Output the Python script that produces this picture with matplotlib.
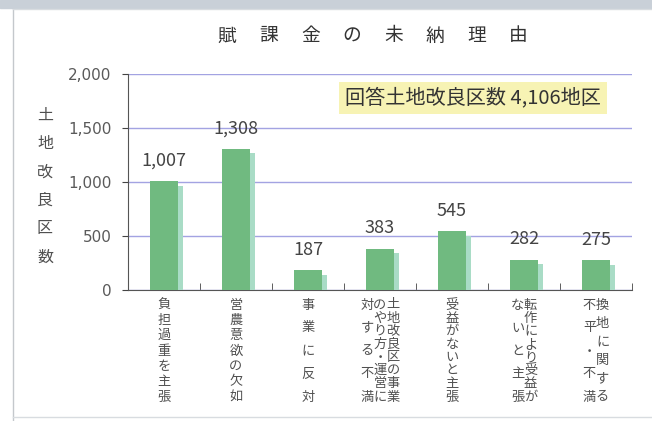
import matplotlib
matplotlib.use("Agg")
import matplotlib.pyplot as plt
import matplotlib.patheffects as pe
from matplotlib.patches import Rectangle
from matplotlib.lines import Line2D

plt.rcParams['font.family'] = ['Noto Sans CJK JP', 'DejaVu Sans']

# データ
title = "賦課金の未納理由"
reasons = ["負担過重を主張", "営農意欲の欠如", "事業に反対",
           "土地改良区の事業のやり方・運営に対する不満", "受益がないと主張",
           "転作により受益がないと主張", "換地に関する不平・不満"]
# 縦書きラベルの列（右から左）
label_columns = [
    ["負担過重を主張"],
    ["営農意欲の欠如"],
    ["事業に反対"],
    ["土地改良区の事業", "のやり方・運営に", "対する不満"],
    ["受益がないと主張"],
    ["転作により受益が", "ないと主張"],
    ["換地に関する", "不平・不満"],
]
counts = [1007, 1308, 187, 383, 545, 282, 275]
yticks = [0, 500, 1000, 1500, 2000]
ylabel = "土地改良区数"
note = "回答土地改良区数 4,106地区"

W, H = 652, 421
bar_color = "#70ba80"
shadow_color = "#a9dcc6"
grid_color = "#a3a3e2"
text_color = "#505050"


def fx(x):
    return x / W


def fy(y):
    return 1 - y / H


fig = plt.figure(figsize=(W / 100, H / 100), dpi=100)
ax = fig.add_axes([fx(128), fy(290), fx(632) - fx(128), fy(74) - fy(290)])

# 枠
fig.patches.append(Rectangle((0, fy(8)), 1, fy(0) - fy(8), transform=fig.transFigure,
                             color="#c9d0d8", zorder=0))
fig.lines.append(Line2D([fx(13), fx(13)], [fy(9), 0], transform=fig.transFigure,
                        color="#c4c8cc", lw=1))
fig.lines.append(Line2D([fx(13), 1], [fy(9), fy(9)], transform=fig.transFigure,
                        color="#d8dce0", lw=1))
fig.lines.append(Line2D([fx(13), 1], [fy(417), fy(417)], transform=fig.transFigure,
                        color="#d8dce0", lw=1))

x = list(range(len(counts)))
ax.bar(x, counts, width=0.4, color=bar_color, zorder=3,
       path_effects=[pe.SimplePatchShadow(offset=(3.6, -3.4), shadow_rgbFace=shadow_color,
                                          alpha=1.0),
                     pe.Normal()])

for xi, v in zip(x, counts):
    ax.annotate(f"{v:,}", (xi, v), xytext=(0, 11), textcoords="offset points",
                ha="center", va="baseline", fontsize=13, color="#444444")

ax.set_xlim(-0.5, len(counts) - 0.5)
ax.set_ylim(0, 2000)
ax.set_yticks(yticks, labels=[f"{t:,}" for t in yticks], family="DejaVu Sans")
ax.set_xticks(x, labels=[""] * len(x))
ax.set_xticks([i + 0.5 for i in x], minor=True)
ax.tick_params(axis="x", which="major", length=0)
ax.tick_params(axis="x", which="minor", direction="in", length=5, color="#444444")
ax.tick_params(axis="y", length=4, pad=8, color="#444444", labelsize=11,
               labelcolor="#5a5a5a")
ax.yaxis.grid(True, color=grid_color, lw=1)
ax.set_axisbelow(True)
for s in ["top", "right"]:
    ax.spines[s].set_visible(False)
for s in ["left", "bottom"]:
    ax.spines[s].set_color("#555555")

# タイトル（字間を広げる）
for k, ch in enumerate(title):
    fig.text(fx(227 + k * 41.6), fy(36), ch, ha="center", va="center",
             fontsize=13.5, color="#333333")

# 縦書きの y 軸ラベル
for k, ch in enumerate(ylabel):
    fig.text(fx(45), fy(115 + k * 28.4), ch, ha="center", va="center",
             fontsize=11.5, color=text_color)

# 縦書きの項目ラベル
for i, cols in enumerate(label_columns):
    n = len(cols)
    for j, col in enumerate(cols):
        xd = i + ((n - 1) / 2 - j) * 13 / 72
        m = len(col)
        for k, ch in enumerate(col):
            yp = 305 + k * 92 / (m - 1)
            fig.text(ax.transData.transform((xd, 0))[0] / W, fy(yp), ch,
                     ha="center", va="center", fontsize=9.5, color=text_color)

# 注記
fig.text(fx(473), fy(98), note, ha="center", va="center", fontsize=14.5,
         color="#333333",
         bbox=dict(boxstyle="square,pad=0.28", facecolor="#f7f3b4", edgecolor="none"))

fig.savefig("out.png", dpi=100)
